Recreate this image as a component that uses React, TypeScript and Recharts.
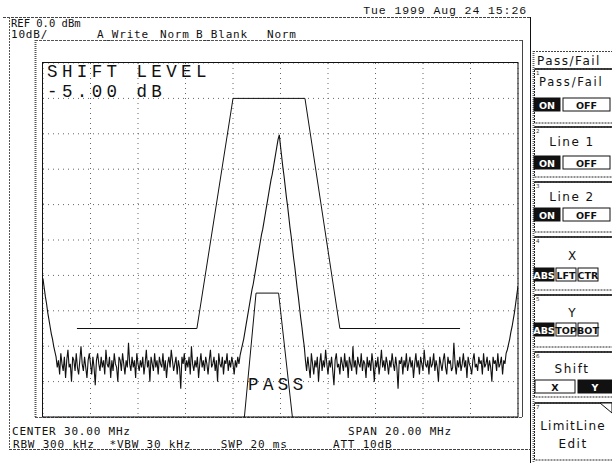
import React from "react";
import { ComposedChart, Line, XAxis, YAxis, CartesianGrid } from "recharts";

// sweep: 20.00 .. 40.00 MHz, 0.05 MHz per point (center 30 MHz, span 20 MHz)
const START_MHZ = 20;
const STEP_MHZ = 0.05;

// trace A levels in dBm, one per sweep point
const leftSkirt = [-61, -63.5, -66, -68, -70.5, -72.5, -74.5, -76.5, -78, -80, -81.5];

const noiseLow = [
  -83, -86, -84, -88, -82, -85, -87, -83, -89, -84,
  -81, -86, -85, -90, -83, -84, -87, -82, -86, -88,
  -84, -80, -85, -87, -83, -86, -89, -84, -82, -85,
  -88, -83, -86, -91, -84, -82, -85, -87, -83, -86,
  -84, -88, -81, -85, -86, -83, -89, -84, -87, -82,
  -85, -86, -90, -83, -84, -87, -82, -85, -88, -84,
  -86, -79, -85, -87, -83, -86, -84, -89, -82, -85,
  -87, -84, -86, -83, -88, -85, -81, -86, -84, -90,
  -83, -85, -87, -82, -86, -84, -88, -83, -85, -86,
  -82, -87, -84, -89, -85, -83, -86, -81, -84, -87,
  -85, -83, -88, -84, -86, -92, -83, -85, -82, -87,
  -84, -86, -83, -88, -80, -85, -87, -84, -86, -83,
  -89, -85, -82, -86, -84, -87, -83, -85, -88, -84,
  -81, -86, -85, -83, -87, -84, -90, -82, -85, -86,
  -83, -88, -84, -85, -82, -87, -84, -86, -83, -85,
  -88, -84, -86, -83, -85,
];

const carrier = [
  -82.5, -81, -79.5, -78, -76, -74, -72, -70, -68, -66,
  -64, -62.5, -60.5, -58.5, -56.5, -54.5, -52.5, -50.5, -48.5, -47,
  -45, -43, -41, -39, -37, -35, -33, -31.5, -29.5, -27.5,
  -25.5, -23.5, -21.5, -20.3, -23.5, -26.5, -29.5, -32, -35, -38,
  -40.5, -43.5, -46.5, -49, -52, -55, -57.5, -60.5, -63.5, -66,
  -69, -72, -74.5, -77.5, -80,
];

const noiseHigh = [
  -84, -87, -83, -86, -89, -82, -85, -88, -84, -86,
  -83, -90, -85, -82, -87, -84, -86, -81, -85, -88,
  -84, -86, -83, -87, -91, -84, -82, -86, -85, -88,
  -83, -85, -87, -82, -86, -84, -89, -83, -85, -87,
  -80, -86, -84, -88, -83, -85, -86, -82, -87, -84,
  -85, -89, -83, -86, -84, -87, -82, -85, -90, -84,
  -86, -83, -88, -85, -81, -86, -84, -87, -83, -85,
  -88, -84, -86, -82, -85, -87, -83, -86, -92, -84,
  -85, -83, -88, -84, -86, -82, -87, -85, -83, -86,
  -84, -89, -85, -82, -86, -84, -88, -83, -85, -87,
  -81, -85, -86, -84, -88, -83, -86, -85, -82, -87,
  -84, -86, -90, -83, -85, -87, -84, -82, -86, -88,
  -83, -85, -84, -87, -86, -79, -85, -88, -84, -86,
  -83, -87, -85, -82, -86, -84, -89, -83, -85, -86,
  -88, -84, -82, -86, -85, -87, -83, -85, -84, -88,
  -82, -86, -85, -83, -87, -84, -86, -90, -83, -85,
  -84, -87, -82, -86, -85, -83, -88, -84, -85,
];

const rightSkirt = [-82, -81, -79.5, -78, -76, -74.5, -72.5, -70.5, -68, -65.5, -63];

const traceLevels = [...leftSkirt, ...noiseLow, ...carrier, ...noiseHigh, ...rightSkirt];

// limit line 1 (upper mask)
const line1Freq = [21.43, 26.48, 28.0, 31.03, 32.5, 37.56];
const line1Level = [-75, -75, -10, -10, -75, -75];

// limit line 2 (lower mask)
const line2Freq = [28.48, 28.97, 29.92, 30.5];
const line2Level = [-100, -65, -65, -100];

const freqTicks = [20, 22, 24, 26, 28, 30, 32, 34, 36, 38, 40];
const levelTicks = [-100, -90, -80, -70, -60, -50, -40, -30, -20, -10, 0];

const traceData = traceLevels.map((v, i) => ({ f: +(START_MHZ + i * STEP_MHZ).toFixed(2), v }));
const line1Data = line1Freq.map((f, i) => ({ f, v: line1Level[i] }));
const line2Data = line2Freq.map((f, i) => ({ f, v: line2Level[i] }));

const small = { fontFamily: "DejaVu Sans Mono", fontSize: 11, letterSpacing: 0.8, fill: "#111", style: { whiteSpace: "pre" as const } };
const big = { fontFamily: "Liberation Mono", fontSize: 17.5, letterSpacing: 4.4, fill: "#111" };
const key = { fontFamily: "DejaVu Sans", fontSize: 12, fill: "#111" };

function Toggle({ x, y, w, label, on }: { x: number; y: number; w: number; label: string; on: boolean }) {
  return (
    <g>
      <rect x={x} y={y} width={w} height={13} fill={on ? "#111" : "#fff"} stroke="#111" />
      <text x={x + w / 2} y={y + 10.5} textAnchor="middle" fontFamily="DejaVu Sans" fontSize={9.5} fontWeight="bold" fill={on ? "#fff" : "#111"}>
        {label}
      </text>
    </g>
  );
}

function KeyBox({ y, h, n }: { y: number; h: number; n: string }) {
  return (
    <g>
      <rect x={534.5} y={y} width={90} height={h} fill="#fff" stroke="#222" strokeDasharray="2 1" />
      <line x1={534.5} y1={y} x2={612} y2={y} stroke="#111" strokeWidth={1.5} />
      <text x={536} y={y + 6} fontFamily="DejaVu Sans" fontSize={5.5} fill="#333">{n}</text>
    </g>
  );
}

function Overlay() {
  return (
    <svg width={612} height={463} style={{ position: "absolute", left: 0, top: 0 }}>
      {/* screen frame */}
      <line x1={3} y1={17.5} x2={530} y2={17.5} stroke="#444" strokeDasharray="3 1" />
      <line x1={9.5} y1={17} x2={9.5} y2={449} stroke="#555" strokeDasharray="2 1" />
      <line x1={530.5} y1={17} x2={530.5} y2={463} stroke="#111" />
      <line x1={9} y1={449.5} x2={530} y2={449.5} stroke="#444" strokeDasharray="3 1" />
      <line x1={35} y1={40.5} x2={523} y2={40.5} stroke="#555" strokeDasharray="3 1" />
      <line x1={35.5} y1={40} x2={35.5} y2={417} stroke="#555" strokeWidth={2} strokeDasharray="1 1" />
      <line x1={522.5} y1={40} x2={522.5} y2={417} stroke="#444" />
      <line x1={35} y1={417.5} x2={523} y2={417.5} stroke="#555" strokeDasharray="3 1" />
      <rect x={42.5} y={62.5} width={475.5} height={354.5} fill="none" stroke="#111" />

      {/* header */}
      <text x={527} y={14} textAnchor="end" fontFamily="Liberation Mono" fontSize={11.5} letterSpacing={0.9} fill="#111">
        Tue 1999 Aug 24 15:26
      </text>
      <text x={11} y={26.5} {...small} fontSize={10.5} letterSpacing={0}>REF 0.0 dBm</text>
      <text x={11} y={38} {...small}>10dB/</text>
      <text x={97} y={38} {...small}>A_Write</text>
      <text x={160} y={38} {...small}>Norm</text>
      <text x={196} y={38} {...small}>B_Blank</text>
      <text x={267} y={38} {...small}>Norm</text>

      {/* footer */}
      <text x={12} y={435} {...small}>CENTER 30.00 MHz</text>
      <text x={348} y={435} {...small}>SPAN 20.00 MHz</text>
      <text x={13} y={448} {...small}>RBW 300 kHz  *VBW 30 kHz    SWP 20 ms</text>
      <text x={333} y={448} {...small}>ATT 10dB</text>

      {/* in-graticule annotations */}
      <text {...big}>
        <tspan x={47} y={77}>SHIFT LEVEL</tspan>
        <tspan x={47} y={97}>-5.00 dB</tspan>
      </text>
      <text x={248} y={390} {...big}>PASS</text>

      {/* softkey panel */}
      <line x1={533.5} y1={51} x2={533.5} y2={463} stroke="#666" strokeWidth={2} strokeDasharray="1 1" />
      <line x1={533} y1={51.5} x2={612} y2={51.5} stroke="#444" strokeDasharray="2 1" />
      <text x={537} y={65} {...key} letterSpacing={1.5}>Pass/Fail</text>

      <KeyBox y={69} h={54} n="1" />
      <text x={539} y={86} {...key} fontSize={11.5} letterSpacing={1.8}>Pass/Fail</text>
      <Toggle x={534} y={98} w={26} label="ON" on />
      <Toggle x={563} y={98} w={47} label="OFF" on={false} />

      <KeyBox y={127} h={50} n="2" />
      <text x={572} y={146} textAnchor="middle" {...key} letterSpacing={1.5}>Line 1</text>
      <Toggle x={534} y={156} w={26} label="ON" on />
      <Toggle x={563} y={156} w={47} label="OFF" on={false} />

      <KeyBox y={182} h={50} n="3" />
      <text x={572} y={201} textAnchor="middle" {...key} letterSpacing={1.5}>Line 2</text>
      <Toggle x={534} y={208} w={26} label="ON" on />
      <Toggle x={563} y={208} w={47} label="OFF" on={false} />

      <KeyBox y={237} h={53} n="4" />
      <text x={572} y={260} textAnchor="middle" {...key}>X</text>
      <Toggle x={534} y={268} w={20} label="ABS" on />
      <Toggle x={556} y={268} w={20} label="LFT" on={false} />
      <Toggle x={578} y={268} w={20} label="CTR" on={false} />

      <KeyBox y={295} h={52} n="5" />
      <text x={572} y={317} textAnchor="middle" {...key}>Y</text>
      <Toggle x={534} y={323} w={20} label="ABS" on />
      <Toggle x={556} y={323} w={20} label="TOP" on={false} />
      <Toggle x={578} y={323} w={20} label="BOT" on={false} />

      <KeyBox y={352} h={45} n="6" />
      <text x={572} y={373} textAnchor="middle" {...key} letterSpacing={1.5}>Shift</text>
      <Toggle x={535} y={380} w={40} label="X" on={false} />
      <Toggle x={578} y={380} w={34} label="Y" on />

      <KeyBox y={403} h={57} n="7" />
      <polygon points="600,403 612,403 612,413" fill="#fff" stroke="#111" />
      <text x={573} y={430} textAnchor="middle" {...key} letterSpacing={1.2}>LimitLine</text>
      <text x={573} y={448} textAnchor="middle" {...key} letterSpacing={1.5}>Edit</text>
    </svg>
  );
}

export default function App() {
  return (
    <div style={{ position: "absolute", left: 0, top: 0, width: 612, height: 463, background: "#fff", overflow: "hidden" }}>
      <ComposedChart width={612} height={463} margin={{ top: 63, right: 94, bottom: 46, left: 43 }}>
        <CartesianGrid stroke="#666" strokeDasharray="1 4" />
        <XAxis type="number" dataKey="f" domain={[20, 40]} ticks={freqTicks} hide allowDataOverflow />
        <YAxis type="number" domain={[-100, 0]} ticks={levelTicks} hide allowDataOverflow />
        <Line data={line1Data} dataKey="v" type="linear" stroke="#111" strokeWidth={1} dot={false} isAnimationActive={false} />
        <Line data={line2Data} dataKey="v" type="linear" stroke="#111" strokeWidth={1} dot={false} isAnimationActive={false} />
        <Line data={traceData} dataKey="v" type="linear" stroke="#111" strokeWidth={1.1} dot={false} isAnimationActive={false} />
      </ComposedChart>
      <Overlay />
    </div>
  );
}
